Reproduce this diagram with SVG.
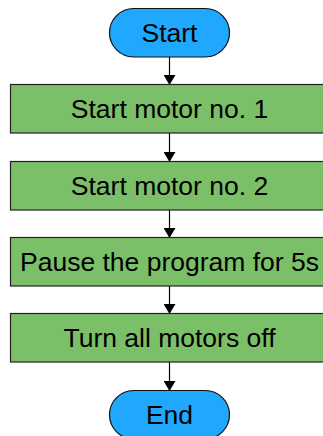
<svg xmlns="http://www.w3.org/2000/svg" width="323" height="436" viewBox="0 0 323 436">
<defs>
<style>
.term{fill:#1fa8fd;stroke:#111;stroke-width:1.2}
.proc{fill:#7cbf69;stroke:#222;stroke-width:1.2}
.lbl{font-family:"Liberation Sans",Arial,sans-serif;font-size:26.5px;fill:#000;text-anchor:middle}
.conn{stroke:#000;stroke-width:1.2;fill:none;marker-end:url(#ah)}
</style>
<marker id="ah" markerWidth="10" markerHeight="12" refX="9" refY="5" orient="auto" markerUnits="userSpaceOnUse" viewBox="0 0 10 10" preserveAspectRatio="none">
<path d="M0,0 L10,5 L0,10 Z" fill="#000"/>
</marker>
</defs>
<rect width="323" height="436" fill="#fff"/>
<g id="connectors">
<line class="conn" x1="169.5" y1="57" x2="169.5" y2="84"/>
<line class="conn" x1="169.5" y1="133" x2="169.5" y2="161"/>
<line class="conn" x1="169.5" y1="210" x2="169.5" y2="237"/>
<line class="conn" x1="169.5" y1="286" x2="169.5" y2="313"/>
<line class="conn" x1="169.5" y1="362" x2="169.5" y2="390"/>
</g>
<g id="start">
<rect class="term" x="109.5" y="8.5" width="120" height="48.5" rx="24.25"/>
<text class="lbl" x="169.5" y="42">Start</text>
</g>
<g id="step1">
<rect class="proc" x="10.5" y="84.5" width="320" height="48.5"/>
<text class="lbl" x="169.5" y="118">Start motor no. 1</text>
</g>
<g id="step2">
<rect class="proc" x="10.5" y="161.5" width="320" height="48.5"/>
<text class="lbl" x="169.5" y="195">Start motor no. 2</text>
</g>
<g id="step3">
<rect class="proc" x="10.5" y="237.5" width="320" height="48.5"/>
<text class="lbl" x="169.5" y="271">Pause the program for 5s</text>
</g>
<g id="step4">
<rect class="proc" x="10.5" y="313.5" width="320" height="48.5"/>
<text class="lbl" x="169.5" y="347">Turn all motors off</text>
</g>
<g id="end">
<rect class="term" x="109.5" y="390.5" width="120" height="48.5" rx="24.25"/>
<text class="lbl" x="169.5" y="424">End</text>
</g>
</svg>
